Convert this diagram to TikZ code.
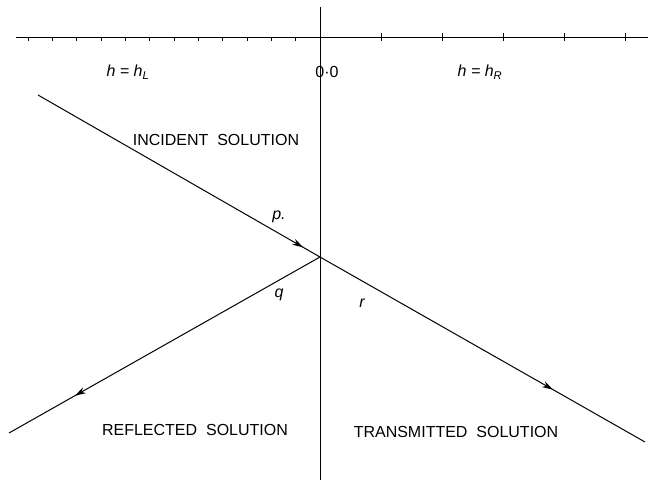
\documentclass[tikz,border=0pt]{standalone}
\usepackage{fontspec}
\setmainfont{Liberation Sans}
\usetikzlibrary{arrows.meta,decorations.markings}

\begin{document}
\begin{tikzpicture}[x=1pt,y=-1pt,font=\fontsize{16pt}{18pt}\selectfont,
      ln/.style={line width=1pt},
      tk/.style={line width=0.8pt},
      ray/.style={line width=1pt,postaction={decorate},
        decoration={markings,mark=at position #1 with {\arrow{Stealth[length=11pt,width=6.5pt]}}}},
      lbl/.style={inner sep=0pt,align=center}]
      \useasboundingbox (0,0) rectangle (654,483);
      % axis and interface
      \coordinate (axL) at (16,37);
      \coordinate (axR) at (648,37);
      \coordinate (vT) at (320,7);
      \coordinate (vB) at (320,480);
      \draw[ln] (axL) -- (axR);
      \draw[ln] (vT) -- (vB);
      \foreach \k in {0,...,11} \draw[tk] (28+24.33*\k,37) -- ++(0,4);
      \foreach \k in {1,...,5} \draw[tk] (320+61*\k,33) -- ++(0,8);
      % rays
      \coordinate (o) at (320,257);
      \coordinate (inc) at (38,95);
      \coordinate (refl) at (9,433);
      \coordinate (tran) at (645,442);
      \draw[ray=0.94] (inc) -- (o);
      \draw[ray=0.788] (o) -- (refl);
      \draw[ray=0.717] (o) -- (tran);
      % labels
      \node[lbl] (hL) at (128,72) {\itshape h = h\textsubscript{L}};
      \node[lbl] (zero) at (327,72) {0·0};
      \node[lbl] (hR) at (480,72) {\itshape h = h\textsubscript{R}};
      \node[lbl] (incL) at (216,140) {INCIDENT\ \ SOLUTION};
      \node[lbl] (p) at (279,217) {\itshape p.};
      \node[lbl] (q) at (279,295) {\itshape q};
      \node[lbl] (r) at (362,303) {\itshape r};
      \node[lbl] (reflL) at (195,430) {REFLECTED\ \ SOLUTION};
      \node[lbl] (tranL) at (456,432) {TRANSMITTED\ \ SOLUTION};
    \end{tikzpicture}
\end{document}
